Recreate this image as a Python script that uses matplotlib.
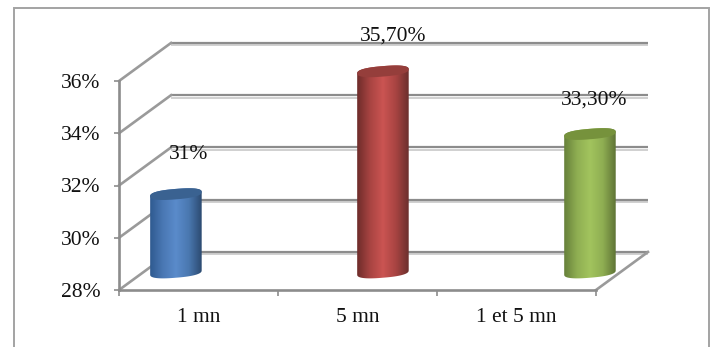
#!/usr/bin/env python3

import numpy as np
import matplotlib
matplotlib.use('Agg')
from matplotlib import pyplot as plt
from matplotlib.colors import LinearSegmentedColormap
from matplotlib.patches import Polygon, Rectangle

categories = ['1 mn', '5 mn', '1 et 5 mn']
values = [31, 35.7, 33.3]
value_labels = ['31%', '35,70%', '33,30%']
y_ticks = [28, 30, 32, 34, 36]
y_tick_labels = ['28%', '30%', '32%', '34%', '36%']

bar_shades = [
    ['#2f5a90', '#4a78b4', '#5a8bcb', '#4a78b0', '#2c4a70'],
    ['#6e2c2a', '#a84442', '#cb5452', '#a84442', '#6b2f2d'],
    ['#66803a', '#8fae52', '#a2c45e', '#8fae52', '#5f7436'],
]
cap_colors = ['#3a6291', '#953e3b', '#76923c']

W, H = 716, 347
GRID = '#8c8c8c'
TEXT = '#111111'
FONT_SIZE = 15.5

# depth of the fake 3D floor, in data units
DEPTH_X = 0.327
DEPTH_Y = 1.456
# bars stand halfway into the floor
BASE_SHIFT = 0.67
BAR_START = 0.358
BAR_STEP = 1.302
BAR_RX = 0.162
CAP_RY = 0.2
CAP_TILT = 0.08

plt.rcParams['font.family'] = ['Liberation Serif', 'DejaVu Serif']

fig = plt.figure(figsize=(W / 100, H / 100), dpi=100)
fig.add_artist(Rectangle((13.5 / W, -0.05), 695.5 / W, 1 - 8 / H + 0.05, transform=fig.transFigure,
                         fill=False, edgecolor='#a3a3a3', linewidth=1.4))

ax = fig.add_axes([119 / W, (H - 290) / H, 477 / W, 209 / H])
ax.patch.set_alpha(0)

# back wall gridlines and the diagonals running to the front axis
for y in y_ticks:
    ax.plot([DEPTH_X, 3 + DEPTH_X], [y + DEPTH_Y - 0.09] * 2, color='#c8c8c8', lw=1.2, clip_on=False, zorder=1,
            solid_capstyle='butt')
    ax.plot([DEPTH_X, 3 + DEPTH_X], [y + DEPTH_Y] * 2, color=GRID, lw=1.6, clip_on=False, zorder=2,
            solid_capstyle='butt')
    ax.plot([0, DEPTH_X], [y, y + DEPTH_Y], color='#9a9a9a', lw=1.9, clip_on=False, zorder=2)
ax.plot([3, 3 + DEPTH_X], [28, 28 + DEPTH_Y], color='#9a9a9a', lw=1.9, clip_on=False, zorder=2)


def ellipse_points(cx, cy, t):
    # slightly squared ellipse, right end raised a little
    c = np.sign(np.cos(t)) * np.abs(np.cos(t)) ** 0.8
    s = np.sign(np.sin(t)) * np.abs(np.sin(t)) ** 0.8
    return cx + BAR_RX * c, cy + CAP_RY * s + CAP_TILT * c


for i, value in enumerate(values):
    cx = BAR_START + BAR_STEP * i
    base = 28 + BASE_SHIFT
    top = value + BASE_SHIFT

    # cylinder outline: lower half of the base plus upper half of the top
    low_x, low_y = ellipse_points(cx, base, np.linspace(np.pi, 2 * np.pi, 40))
    up_x, up_y = ellipse_points(cx, top, np.linspace(0, np.pi, 40))
    outline = Polygon(np.column_stack([np.r_[low_x, up_x], np.r_[low_y, up_y]]), closed=True,
                      transform=ax.transData, facecolor='none', edgecolor='none')
    ax.add_patch(outline)

    cmap = LinearSegmentedColormap.from_list('shade', bar_shades[i])
    img = ax.imshow(np.linspace(0, 1, 128).reshape(1, -1), cmap=cmap, aspect='auto', zorder=3,
                    extent=[cx - BAR_RX, cx + BAR_RX, base - 1, top + 1], interpolation='bilinear')
    img.set_clip_box(fig.bbox)
    img.set_clip_path(outline)

    cap_x, cap_y = ellipse_points(cx, top, np.linspace(0, 2 * np.pi, 80))
    ax.fill(cap_x, cap_y, color=cap_colors[i], lw=0, zorder=4, clip_on=False)

# value labels sit at hand-placed offsets above each bar
label_offsets = [(13, 40), (10, 35), (4, 34)]
for i, value in enumerate(values):
    cx = BAR_START + BAR_STEP * i
    ax.annotate(value_labels[i], (cx, value + BASE_SHIFT), xytext=label_offsets[i], textcoords='offset pixels',
                ha='center', va='center', fontsize=FONT_SIZE, color=TEXT, zorder=5, annotation_clip=False)

ax.set_xlim(0, 3)
ax.set_ylim(28, 36)
ax.set_xticks([0, 1, 2, 3])
ax.set_xticklabels([])
ax.set_xticks([0.5, 1.5, 2.5], minor=True)
ax.set_xticklabels(categories, minor=True, fontsize=FONT_SIZE, color=TEXT)
ax.set_yticks(y_ticks)
ax.set_yticklabels(y_tick_labels, fontsize=FONT_SIZE, color=TEXT)
ax.tick_params(axis='x', which='major', length=4, width=1.2, color=GRID)
ax.tick_params(axis='x', which='minor', length=0, pad=13)
ax.tick_params(axis='y', length=3.5, width=1.2, color=GRID, pad=10)

for side in ['top', 'right']:
    ax.spines[side].set_visible(False)
for side in ['left', 'bottom']:
    ax.spines[side].set_color(GRID)
    ax.spines[side].set_linewidth(1.9)

plt.savefig('out.png', dpi=100)
